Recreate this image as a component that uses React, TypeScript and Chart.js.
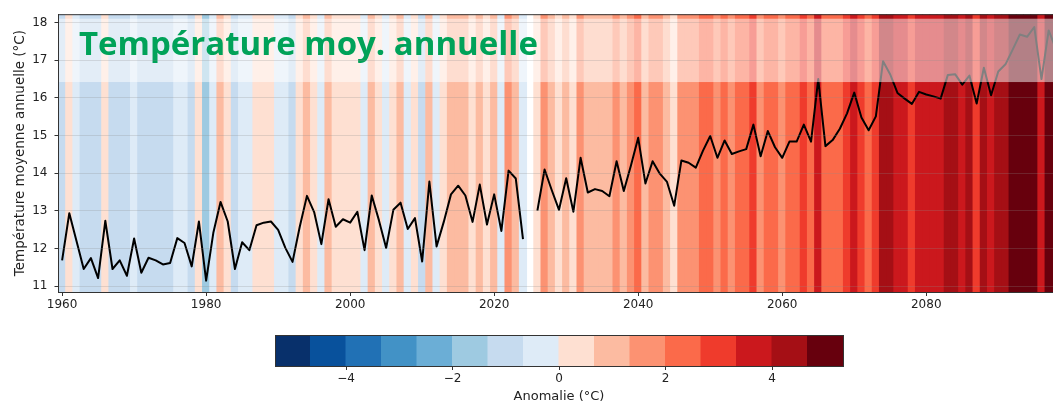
import React, { useEffect, useRef } from "react";
import { Chart, registerables } from "chart.js";

Chart.register(...registerables);

// ---------- data ----------
const FIRST_YEAR = 1960;

// Annual mean temperature (°C); null = no value (2025 gap between observations and projection)
const TEMPS: (number | null)[] = [
  11.69, 12.94, 12.2, 11.46, 11.75, 11.22, 12.74, 11.46, 11.69, 11.28, // 1960-1969
  12.27, 11.36, 11.76, 11.69, 11.58, 11.62, 12.28, 12.15, 11.53, 12.72, // 1970-1979
  11.15, 12.42, 13.24, 12.72, 11.46, 12.17, 11.96, 12.62, 12.69, 12.72, // 1980-1989
  12.5, 12.02, 11.65, 12.58, 13.4, 12.97, 12.12, 13.31, 12.58, 12.78, // 1990-1999
  12.69, 12.98, 11.96, 13.41, 12.75, 12.02, 13.03, 13.22, 12.52, 12.81, // 2000-2009
  11.66, 13.78, 12.06, 12.71, 13.44, 13.67, 13.41, 12.71, 13.7, 12.64, // 2010-2019
  13.44, 12.47, 14.07, 13.86, 12.25, null, 13.01, 14.1, 13.55, 13.03, // 2020-2029
  13.87, 12.98, 14.41, 13.49, 13.58, 13.53, 13.39, 14.32, 13.53, 14.21, // 2030-2039
  14.94, 13.73, 14.32, 13.99, 13.77, 13.14, 14.34, 14.28, 14.15, 14.6, // 2040-2049
  14.99, 14.41, 14.87, 14.51, 14.58, 14.64, 15.29, 14.45, 15.12, 14.69, // 2050-2059
  14.41, 14.84, 14.84, 15.29, 14.84, 16.5, 14.72, 14.88, 15.18, 15.59, // 2060-2069
  16.14, 15.48, 15.14, 15.51, 16.97, 16.62, 16.13, 15.98, 15.84, 16.16, // 2070-2079
  16.09, 16.04, 15.98, 16.61, 16.63, 16.35, 16.59, 15.85, 16.8, 16.07, // 2080-2089
  16.7, 16.89, 17.28, 17.68, 17.62, 17.88, 16.5, 17.79, 17.3, // 2090-2098
];

const YEARS: number[] = TEMPS.map((_, i) => FIRST_YEAR + i);

// reference temperature used for the anomaly (°C)
const REFERENCE_MEAN = 12.55;

// anomaly colour scale (16 classes of 2/3 °C between -16/3 and +16/3)
const ANOMALY_MIN = -16 / 3;
const ANOMALY_MAX = 16 / 3;
const ANOMALY_STEP = 2 / 3;
const ANOMALY_COLORS = [
  "#08306b", "#08519c", "#2171b5", "#4292c6", "#6baed6", "#9ecae1", "#c6dbef", "#deebf7",
  "#fee0d2", "#fcbba1", "#fc9272", "#fb6a4a", "#ef3b2c", "#cb181d", "#a50f15", "#67000d",
];

const X_TICKS = [1960, 1980, 2000, 2020, 2040, 2060, 2080];
const Y_TICKS = [11, 12, 13, 14, 15, 16, 17, 18];
const CBAR_TICKS = [-4, -2, 0, 2, 4];

const TITLE = "Température moy. annuelle";
const Y_TITLE = "Température moyenne annuelle (°C)";
const CBAR_TITLE = "Anomalie (°C)";

// ---------- styling constants ----------
const X_MIN = 1959.5;
const X_MAX = 2097.6;
const Y_MIN = 10.85;
const Y_MAX = 18.22;
const BANNER_TOP = 18.1;
const BANNER_BOTTOM = 16.42;
const TICK_FONT = { family: "'DejaVu Sans', sans-serif", size: 12 };
const TEXT_COLOR = "#222";
const SPINE = "#333";

function colorFor(anomaly: number): string {
  let idx = Math.floor((anomaly - ANOMALY_MIN) / ANOMALY_STEP);
  idx = Math.max(0, Math.min(ANOMALY_COLORS.length - 1, idx));
  return ANOMALY_COLORS[idx];
}

const minusFmt = (v: number) => (v < 0 ? "\u2212" + Math.abs(v) : String(v));

export default function App() {
  const mainRef = useRef<HTMLCanvasElement>(null);
  const cbarRef = useRef<HTMLCanvasElement>(null);

  useEffect(() => {
    document.body.style.margin = "0";
    const stripeColors = TEMPS.map((t) => (t == null ? "rgba(0,0,0,0)" : colorFor(t - REFERENCE_MEAN)));

    const bannerPlugin = {
      id: "banner",
      afterDatasetsDraw(chart: any) {
        const { ctx, chartArea, scales } = chart;
        const y = scales.y;
        const top = y.getPixelForValue(BANNER_TOP);
        const bottom = y.getPixelForValue(BANNER_BOTTOM);
        ctx.save();
        ctx.fillStyle = "rgba(255,255,255,0.5)";
        ctx.fillRect(chartArea.left, top, chartArea.right - chartArea.left, bottom - top);
        ctx.font = "700 100px 'Open Sans', sans-serif";
        const w100 = ctx.measureText(TITLE).width;
        const size = (100 * 459) / w100;
        ctx.font = `700 ${size}px 'Open Sans', sans-serif`;
        ctx.fillStyle = "#00a259";
        ctx.textBaseline = "alphabetic";
        ctx.textAlign = "left";
        ctx.fillText(TITLE, 79, 55);
        ctx.restore();
      },
      afterDraw(chart: any) {
        const { ctx, chartArea } = chart;
        ctx.save();
        ctx.strokeStyle = SPINE;
        ctx.lineWidth = 1;
        ctx.beginPath();
        ctx.moveTo(chartArea.left, chartArea.top + 0.5);
        ctx.lineTo(chartArea.right, chartArea.top + 0.5);
        ctx.stroke();
        ctx.restore();
      },
    };

    const main = new Chart(mainRef.current as HTMLCanvasElement, {
      type: "bar",
      data: {
        datasets: [
          {
            type: "line",
            data: YEARS.map((x, i) => ({ x, y: TEMPS[i] })),
            borderColor: "#000",
            borderWidth: 2,
            pointRadius: 0,
            tension: 0,
            spanGaps: false,
            borderJoinStyle: "round",
            order: 0,
          } as any,
          {
            type: "bar",
            data: YEARS.map((x, i) => ({ x, y: TEMPS[i] == null ? null : [Y_MIN, Y_MAX] })),
            backgroundColor: stripeColors,
            barPercentage: 1,
            categoryPercentage: 1,
            borderWidth: 0,
            inflateAmount: 0.5,
            grouped: false,
            order: 1,
          } as any,
        ],
      },
      options: {
        animation: false,
        responsive: false,
        maintainAspectRatio: false,
        layout: { padding: { left: 0, right: 0, top: 7, bottom: 0 } },
        plugins: { legend: { display: false }, tooltip: { enabled: false } },
        scales: {
          x: {
            type: "linear",
            offset: false,
            min: X_MIN,
            max: X_MAX,
            afterBuildTicks: (s: any) => {
              s.ticks = X_TICKS.map((v) => ({ value: v }));
            },
            afterFit: (s: any) => {
              s.height = 28;
            },
            ticks: {
              font: TICK_FONT,
              color: TEXT_COLOR,
              padding: 2,
              maxRotation: 0,
              autoSkip: false,
              callback: (v: any) => String(v),
            },
            grid: { offset: false, drawOnChartArea: false, tickLength: 4, tickColor: SPINE, z: 1 },
            border: { display: true, color: SPINE, width: 1, z: 1 },
          },
          y: {
            type: "linear",
            min: Y_MIN,
            max: Y_MAX,
            afterBuildTicks: (s: any) => {
              s.ticks = Y_TICKS.map((v) => ({ value: v }));
            },
            afterFit: (s: any) => {
              s.width = 58.5;
            },
            ticks: { font: TICK_FONT, color: TEXT_COLOR, padding: 7, callback: (v: any) => String(v) },
            grid: { color: "rgba(140,140,140,0.25)", lineWidth: 1, tickLength: 4, tickColor: SPINE, z: 1 },
            border: { display: true, color: SPINE, width: 1, z: 1 },
            title: {
              display: true,
              text: Y_TITLE,
              color: TEXT_COLOR,
              font: { family: "'DejaVu Sans', sans-serif", size: 13.5 },
              padding: { top: 12, bottom: 0 },
            },
          },
        },
      } as any,
      plugins: [bannerPlugin],
    });

    const cbarBorder = {
      id: "cbarBorder",
      afterDraw(chart: any) {
        const { ctx, chartArea } = chart;
        ctx.save();
        ctx.strokeStyle = SPINE;
        ctx.lineWidth = 1;
        ctx.strokeRect(
          Math.round(chartArea.left) + 0.5,
          Math.round(chartArea.top) + 0.5,
          Math.round(chartArea.right - chartArea.left),
          Math.round(chartArea.bottom - chartArea.top)
        );
        ctx.restore();
      },
    };

    const centers = ANOMALY_COLORS.map((_, i) => ANOMALY_MIN + (i + 0.5) * ANOMALY_STEP);
    const cbar = new Chart(cbarRef.current as HTMLCanvasElement, {
      type: "bar",
      data: {
        datasets: [
          {
            data: centers.map((x) => ({ x, y: 1 })),
            backgroundColor: ANOMALY_COLORS,
            barPercentage: 1,
            categoryPercentage: 1,
            borderWidth: 0,
            inflateAmount: 0.5,
          } as any,
        ],
      },
      options: {
        animation: false,
        responsive: false,
        maintainAspectRatio: false,
        layout: { padding: { left: 275, right: 210, top: 15, bottom: 0 } },
        plugins: { legend: { display: false }, tooltip: { enabled: false } },
        scales: {
          x: {
            type: "linear",
            offset: false,
            min: ANOMALY_MIN,
            max: ANOMALY_MAX,
            afterBuildTicks: (s: any) => {
              s.ticks = CBAR_TICKS.map((v) => ({ value: v }));
            },
            afterFit: (s: any) => {
              s.height = 41;
            },
            ticks: {
              font: TICK_FONT,
              color: TEXT_COLOR,
              padding: 2,
              maxRotation: 0,
              autoSkip: false,
              callback: (v: any) => minusFmt(Number(v)),
            },
            grid: { offset: false, drawOnChartArea: false, tickLength: 4, tickColor: SPINE },
            border: { display: false },
            title: {
              display: true,
              text: CBAR_TITLE,
              color: TEXT_COLOR,
              font: { family: "'DejaVu Sans', sans-serif", size: 13 },
              padding: { top: 0, bottom: 3 },
            },
          },
          y: { display: false, min: 0, max: 1 },
        },
      } as any,
      plugins: [cbarBorder],
    });

    return () => {
      main.destroy();
      cbar.destroy();
    };
  }, []);

  return (
    <div style={{ position: "relative", width: 1053, height: 407 }}>
      <canvas ref={mainRef} width={1053} height={320} style={{ position: "absolute", left: 0, top: 0 }} />
      <canvas ref={cbarRef} width={1053} height={87} style={{ position: "absolute", left: 0, top: 320 }} />
    </div>
  );
}
